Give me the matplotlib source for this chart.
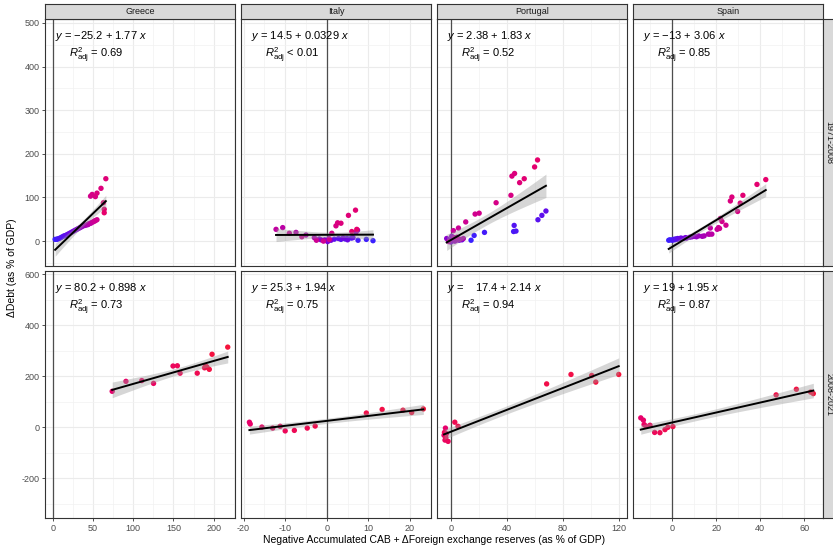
import numpy as np
import matplotlib.pyplot as plt
from matplotlib.colors import LinearSegmentedColormap
from matplotlib.ticker import MultipleLocator

plt.rcParams['font.family'] = ['Liberation Sans', 'DejaVu Sans']
plt.rcParams['mathtext.fontset'] = 'custom'
plt.rcParams['mathtext.rm'] = 'Liberation Sans'
plt.rcParams['mathtext.it'] = 'Liberation Sans:italic'
plt.rcParams['axes.unicode_minus'] = False

countries = ['Greece', 'Italy', 'Portugal', 'Spain']
periods = ['1971-2008', '2008-2021']

# ---- 1971-2008 ----
gre_x_1 = [3, 5, 6, 8, 10, 12, 14, 16, 18, 20, 22, 24, 26, 28, 30, 32, 34, 36, 38, 40,
           42, 44, 45, 47, 48, 50, 52, 53, 55, 47, 49, 53, 55, 60, 66, 63, 64, 64]
gre_y_1 = [4, 4, 5, 6, 8, 10, 12, 13, 15, 17, 19, 21, 23, 25, 27, 29, 31, 33, 35, 36,
           37, 38, 40, 41, 42, 44, 46, 47, 49, 103, 107, 102, 110, 121, 143, 88, 73, 65]
gre_year_1 = list(range(1971, 2009))

ita_x_1 = [11.1, 9.5, 7.5, 5.9, 4.4, 3.4, 1.8, 2.8, 4.9, 6.3, 5.0, 3.9, 1.0, 0.2, -0.5,
           -1.4, -1.8, 0.5, 7.0, 7.4, -3.0, -5.0, -7.4, -10.6, -12.2, -9.0, -6.0, -2.5,
           -0.8, 0.6, 1.2, 2.2, 2.6, 3.4, 5.2, 6.9, 6.0, 7.2]
ita_y_1 = [1, 4, 2, 7, 5, 4, 4.5, 6, 6, 8, 3, 7, 2, -1, 3,
           3, 5, 6, 20, 25, 8, 14, 20, 31, 27, 18, 10, 2,
           0, 4, 18, 35, 42, 41, 59, 71, 22, 27]
ita_year_1 = list(range(1971, 2009))

por_x_1 = [14.5, 16.7, 24.1, 44.9, 46.6, 45.3, 62.3, 65.1, 68.0, 8, 6, 4, 2, 0, -1,
           -2.9, 0.7, 1, 3, 5, 7, 9, 2.5, -1.5, 4.5, 1.9, 5.5, 10.7, 17.4, 20.3,
           32.4, 43.0, 43.7, 45.6, 49.2, 52.5, 59.9, 62.0]
por_y_1 = [2, 13, 20, 22, 23, 36, 49, 59, 69, 3, 2, 5, 1, -2, 2,
           6, 11, 4, 0, 3, 4, 6, 8, -1, 9, 24, 30, 44, 62, 64,
           88, 105, 149, 155, 134, 143, 170, 186]
por_year_1 = list(range(1971, 2009))

spa_x_1 = [-1.6, -1, 0, 0.5, 1, 1.5, 2, 2.5, 3, 3.5, 4, 5, 6, 6.5, 8, 9, 10, 11, 12,
           13.6, 14.5, 16.4, 17, 18, 17.3, 20.4, 21, 21.5, 24.4, 22.6, 21.9, 29.7,
           26.4, 27.1, 30.9, 32.1, 38.5, 42.5]
spa_y_1 = [2, 3, 2, 4, 3, 5, 4, 6, 5, 6, 7, 6, 8, 7, 9, 10, 11, 10, 12,
           11, 12, 16, 16, 16, 30, 27, 31, 29, 36.5, 45, 52, 68,
           92, 101, 87, 105, 130, 141]
spa_year_1 = list(range(1971, 2009))

# ---- 2008-2021 ----
gre_x_2 = [73.9, 91, 110.7, 125.3, 149.5, 154.9, 158.3, 179.6, 188.7, 191.6, 190, 194.6, 198, 217.5]
gre_y_2 = [141, 180, 183, 172, 240, 241, 212, 212, 233, 236, 240, 227, 286, 314]
ita_x_2 = [-18.6, -18.4, -15.6, -13, -11.2, -10, -7.8, -4.7, -2.8, 9.5, 13.3, 18.3, 20.4, 23.2]
ita_y_2 = [20, 13, 1, -3, 4, -14, -12, -3, 5, 56, 70, 67, 58, 72]
por_x_2 = [-3.8, -4.8, -3.1, -4.1, -1.9, -4.5, -3.5, 2.9, 5.2, 68.5, 85.9, 100.7, 103.6, 120]
por_y_2 = [-3, -31, -25, -50, -55, -20, -40, 20, 4, 170, 207, 203, 177, 207]
spa_x_2 = [-14.3, -13.1, -12.8, -12, -10.1, -8, -5.6, -3.3, -2, 0.3, 47.2, 56.4, 62.9, 64.1]
spa_y_2 = [37, 28, 11, 5, 8, -20, -21, -9, 0, 3, 127, 149, 138, 132]
year_2 = list(range(2008, 2022))

# fitted coefficients as printed in the panels
intercepts_1 = [-25.2, 14.5, 2.38, -13]
slopes_1 = [1.77, 0.0329, 1.83, 3.06]
intercepts_2 = [80.2, 25.3, -17.4, 19]
slopes_2 = [0.898, 1.94, 2.14, 1.95]

eq_labels_1 = ['$y$ = \u221225.2 + 1.77 $x$', '$y$ = 14.5 + 0.0329 $x$',
               '$y$ = 2.38 + 1.83 $x$', '$y$ = \u221213 + 3.06 $x$']
r2_labels_1 = ['= 0.69', '< 0.01', '= 0.52', '= 0.85']
eq_labels_2 = ['$y$ = 80.2 + 0.898 $x$', '$y$ = 25.3 + 1.94 $x$',
               '$y$ =    17.4 + 2.14 $x$', '$y$ = 19 + 1.95 $x$']
r2_labels_2 = ['= 0.73', '= 0.75', '= 0.94', '= 0.87']

data_1 = [(gre_x_1, gre_y_1, gre_year_1), (ita_x_1, ita_y_1, ita_year_1),
          (por_x_1, por_y_1, por_year_1), (spa_x_1, spa_y_1, spa_year_1)]
data_2 = [(gre_x_2, gre_y_2, year_2), (ita_x_2, ita_y_2, year_2),
          (por_x_2, por_y_2, year_2), (spa_x_2, spa_y_2, year_2)]

xlims = [(-9.6, 227), (-20.65, 25.1), (-10, 126), (-18, 68.5)]
xmajor = [50, 10, 40, 20]
ylims = [(-57, 509), (-355, 612)]
ymajor = [100, 200]

cmap = LinearSegmentedColormap.from_list(
    'yr', ['#3a20ff', '#7a00dc', '#c8009a', '#e8006a', '#f5143c'])


def conf_band(x, y, a, b, xs):
    x, y = np.asarray(x, float), np.asarray(y, float)
    n = len(x)
    r = y - (a + b * x)
    s = np.sqrt(np.sum(r ** 2) / (n - 2))
    xm = x.mean()
    sxx = np.sum((x - xm) ** 2)
    t = 2.03 if n > 30 else 2.18
    se = s * np.sqrt(1 / n + (xs - xm) ** 2 / sxx)
    fit = a + b * xs
    return fit - t * se, fit + t * se


W, H = 833, 550
fig = plt.figure(figsize=(W / 100, H / 100), dpi=100)

left, right = 45, 823
top, bottom = 19, 518
gap_x, gap_y = 5.5, 5
pw = (right - left - 3 * gap_x) / 4
ph = (bottom - top - gap_y) / 2

for r in range(2):
    data = data_1 if r == 0 else data_2
    a_list = intercepts_1 if r == 0 else intercepts_2
    b_list = slopes_1 if r == 0 else slopes_2
    eqs = eq_labels_1 if r == 0 else eq_labels_2
    r2s = r2_labels_1 if r == 0 else r2_labels_2
    y0 = top + r * (ph + gap_y)
    for c in range(4):
        x0 = left + c * (pw + gap_x)
        ax = fig.add_axes([x0 / W, 1 - (y0 + ph) / H, pw / W, ph / H])
        x, y, yr = data[c]
        x = np.asarray(x, float)
        y = np.asarray(y, float)
        t = (np.asarray(yr) - 1971) / (2021 - 1971)

        ax.set_xlim(*xlims[c])
        ax.set_ylim(*ylims[r])
        ax.xaxis.set_major_locator(MultipleLocator(xmajor[c]))
        ax.xaxis.set_minor_locator(MultipleLocator(xmajor[c] / 2))
        ax.yaxis.set_major_locator(MultipleLocator(ymajor[r]))
        ax.yaxis.set_minor_locator(MultipleLocator(ymajor[r] / 2))
        ax.grid(which='major', color='#ebebeb', lw=0.8)
        ax.grid(which='minor', color='#f2f2f2', lw=0.5)
        ax.set_axisbelow(True)

        ax.axvline(0, color='#4d4d4d', lw=0.9, zorder=1)
        ax.scatter(x, y, c=cmap(t), s=15, linewidths=0, zorder=2)

        a, b = a_list[c], b_list[c]
        xs = np.linspace(x.min(), x.max(), 80)
        lo, hi = conf_band(x, y, a, b, xs)
        ax.fill_between(xs, lo, hi, color='#999999', alpha=0.4, lw=0, zorder=3)
        ax.plot(xs, a + b * xs, color='black', lw=1.4, zorder=4)

        ax.text(10 / pw, 1 - 17 / ph, eqs[c], transform=ax.transAxes,
                fontsize=8, va='center', ha='left', color='black')
        ax.text(24 / pw, 1 - 36 / ph, r'$R^2_{\mathrm{adj}}$ ' + r2s[c],
                transform=ax.transAxes, fontsize=8, va='center', ha='left', color='black')

        for sp in ax.spines.values():
            sp.set_color('#333333')
            sp.set_linewidth(0.8)
        ax.tick_params(which='both', length=0)
        ax.tick_params(which='major', length=2.5, width=0.6, color='#333333',
                       labelsize=6.5, labelcolor='#4d4d4d', pad=1.5)
        if c != 0:
            ax.tick_params(axis='y', which='both', left=False, labelleft=False)
        if r == 0:
            ax.tick_params(axis='x', which='both', bottom=False, labelbottom=False)

        # column strips
        if r == 0:
            sa = fig.add_axes([x0 / W, 1 - top / H, pw / W, 15 / H])
            sa.set_facecolor('#d9d9d9')
            sa.set_xticks([])
            sa.set_yticks([])
            for sp in sa.spines.values():
                sp.set_color('#333333')
                sp.set_linewidth(0.8)
            sa.text(0.5, 0.5, countries[c], ha='center', va='center',
                    fontsize=6.5, color='#1a1a1a', transform=sa.transAxes)

    # row strips
    ra = fig.add_axes([right / W, 1 - (y0 + ph) / H, 17 / W, ph / H])
    ra.set_facecolor('#d9d9d9')
    ra.set_xticks([])
    ra.set_yticks([])
    for sp in ra.spines.values():
        sp.set_color('#333333')
        sp.set_linewidth(0.8)
    ra.text(0.35, 0.5, periods[r], ha='center', va='center', rotation=270,
            fontsize=6.5, color='#1a1a1a', transform=ra.transAxes)

fig.text(12 / W, 1 - 268 / H, '\u0394Debt (as % of GDP)', rotation=90,
         ha='center', va='center', fontsize=7.5)
fig.text((left + right) / 2 / W, 1 - 540 / H,
         'Negative Accumulated CAB + \u0394Foreign exchange reserves (as % of GDP)',
         ha='center', va='center', fontsize=7.5)

fig.savefig('out.png', dpi=100)
